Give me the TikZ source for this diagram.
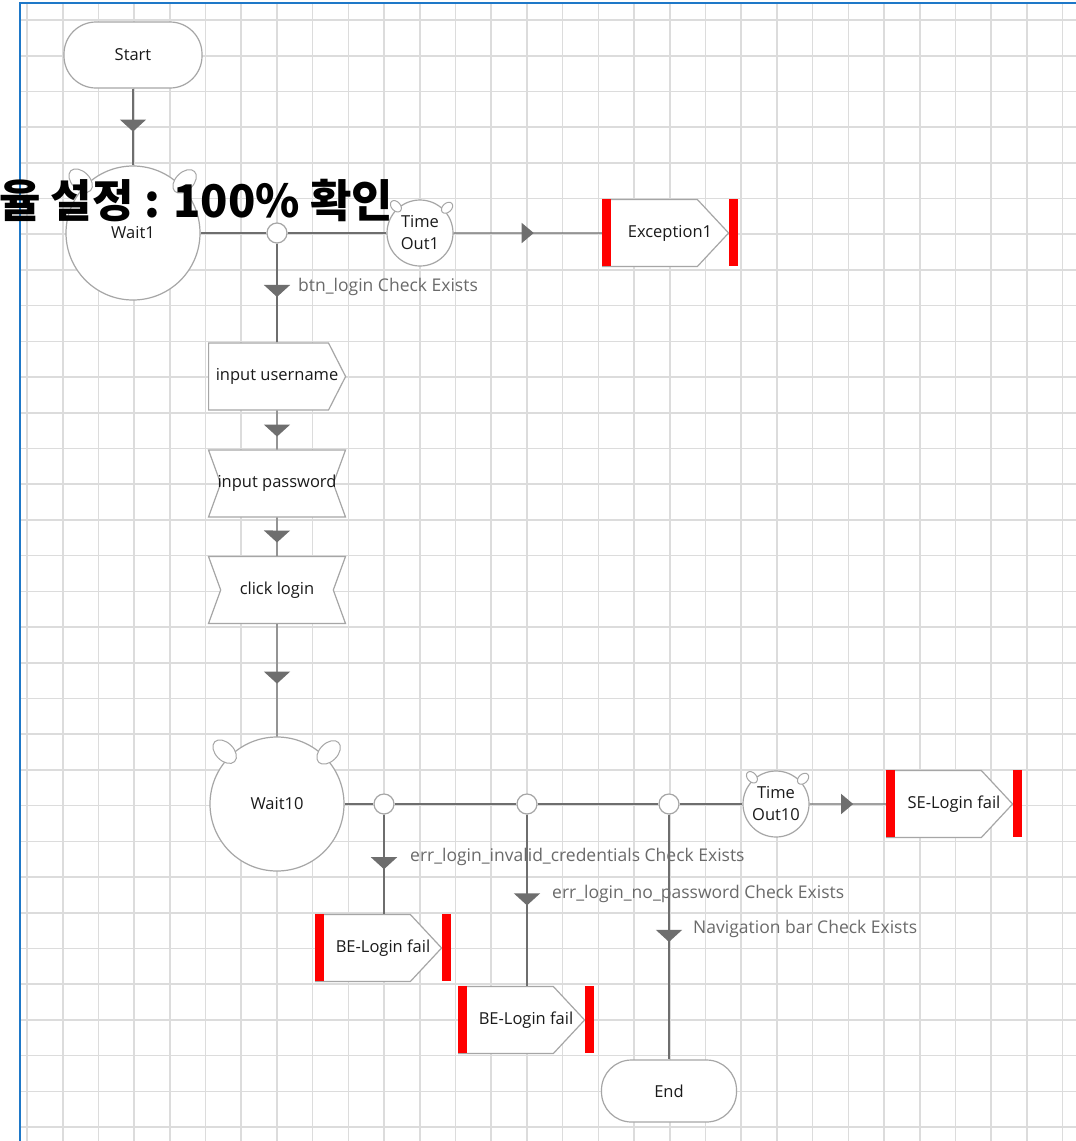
\documentclass[tikz,border=0pt]{standalone}
\usepackage{fontspec}
\setmainfont{Open Sans}
\newfontfamily\krfont{Noto Sans CJK KR}
\usepackage{tikz}
\usetikzlibrary{arrows.meta}
\usetikzlibrary{calc}
\usetikzlibrary{decorations.markings}
\usetikzlibrary{shapes.geometric}
\usetikzlibrary{shapes.symbols}
\definecolor{gridgray}{HTML}{DCDCDC}
\definecolor{frameblue}{HTML}{1E78C8}
\definecolor{linegray}{HTML}{6E6E6E}
\definecolor{shapegray}{HTML}{A6A6A6}
\definecolor{lblgray}{HTML}{6A6A6A}
\definecolor{txtblack}{HTML}{1A1A1A}
\newcommand\flowfont{\fontsize{16.5}{22}\selectfont}
\newcommand\notefont{\fontsize{17.5}{20}\selectfont}
\newcommand\movetext[2]{\makebox[0pt]{\hspace{#1}#2}}

\begin{document}
\begin{tikzpicture}[x=1pt, y=-1pt,
    vtip/.style={postaction={decorate}, decoration={markings, mark=at position #1 with {\arrow{Triangle[width=26pt,length=12pt]}}}},
    htip/.style={postaction={decorate}, decoration={markings, mark=at position #1 with {\arrow{Triangle[width=20pt,length=12pt]}}}}]
    \tikzstyle{e} = [draw=linegray, line width=1.3pt]
    \tikzstyle{term} = [draw=shapegray, fill=white, line width=1.2pt, rounded corners=32pt, minimum width=138pt, minimum height=66pt, font=\flowfont, text=txtblack]
    \tikzstyle{waitc} = [circle, draw=shapegray, fill=white, line width=1.2pt, minimum size=134pt, inner sep=0pt, font=\flowfont, text=txtblack]
    \tikzstyle{timec} = [circle, draw=shapegray, fill=white, line width=1.2pt, minimum size=66pt, inner sep=0pt, align=center, font=\flowfont, text=txtblack]
    \tikzstyle{ear} = [ellipse, draw=shapegray, fill=white, line width=1pt, minimum width=28pt, minimum height=18pt, inner sep=0pt]
    \tikzstyle{smallear} = [ear, minimum width=13pt, minimum height=9pt]
    \tikzstyle{junc} = [circle, draw=shapegray, fill=white, line width=1.2pt, minimum size=20pt, inner sep=0pt]
    \tikzstyle{act} = [signal, draw=shapegray, fill=white, line width=1.2pt, minimum width=137pt, minimum height=67pt, inner sep=0pt, font=\flowfont, text=txtblack]
    \tikzstyle{sendbox} = [act, anchor=west, signal to=east, signal pointer angle=126]
    \tikzstyle{waitbox} = [act, inner xsep=-4pt, signal from=west and east, signal to=nowhere, signal pointer angle=140]
    \tikzstyle{failbox} = [act, anchor=west, signal to=east, signal pointer angle=94, minimum width=126pt]
    \tikzstyle{lbl} = [anchor=west, inner sep=0pt, text=lblgray, font=\notefont]

    \useasboundingbox (0,0) rectangle (1076,1141);
    \fill[white] (0,0) rectangle (1076,1141);
    \foreach \i in {0,...,29}
        \draw[gridgray, line width=1.6pt] ({27+35.71*\i},3) -- ({27+35.71*\i},1141);
    \foreach \i in {0,...,31}
        \draw[gridgray, line width=1.6pt] (20,{20+35.71*\i}) -- (1076,{20+35.71*\i});
    \draw[frameblue, line width=2.4pt] (20,1141) -- (20,3) -- (1076,3);

    \node[term] (start) at (133,55) {Start};
    \node[waitc] (w1) at (133,233) {Wait1};
    \node[junc] (j1) at (277,233) {};
    \node[timec] (t1) at (420,233) {Time\\Out1};
    \node[failbox] (exc1) at (602,233) {\movetext{40pt}{Exception1}};
    \node[sendbox] (iu) at (208,376.5) {\movetext{17pt}{input username}};
    \node[waitbox] (ip) at (277,483.5) {input password};
    \node[waitbox] (cl) at (277,590) {click login};
    \node[waitc] (w10) at (277,804) {Wait10};
    \node[junc] (j2) at (384,804) {};
    \node[junc] (j3) at (527,804) {};
    \node[junc] (j4) at (669,804) {};
    \node[timec] (t10) at (776,804) {Time\\Out10};
    \node[failbox] (se) at (886,804) {\movetext{40pt}{SE-Login fail}};
    \node[failbox] (be1) at (315,948) {\movetext{40pt}{BE-Login fail}};
    \node[failbox] (be2) at (458,1020) {\movetext{40pt}{BE-Login fail}};
    \node[term, minimum width=135pt, minimum height=62pt, rounded corners=30pt] (end) at (669,1091) {End};

    \foreach \n in {w1,w10} {
        \node[ear, rotate=135] (\n-el) at ($(\n.center)+(135:74pt)$) {};
        \node[ear, rotate=45] (\n-er) at ($(\n.center)+(45:73pt)$) {};
    }
    \foreach \n in {t1,t10} {
        \node[smallear, rotate=132] (\n-el) at ($(\n.center)+(132:36pt)$) {};
        \node[smallear, rotate=43] (\n-er) at ($(\n.center)+(43:37pt)$) {};
    }
    \foreach \n in {exc1,se,be1,be2} {
        \fill[red] (\n.west |- \n.north) rectangle ++(9,67);
        \fill[red] (\n.east |- \n.north) rectangle ++(9,67);
    }

    \node[lbl] (lb1) at (298,287) {btn\_login Check Exists};
    \node[lbl] (lb2) at (410,857) {err\_login\_invalid\_credentials Check Exists};
    \node[lbl] (lb3) at (552,894) {err\_login\_no\_password Check Exists};
    \node[lbl] (lb4) at (693,929) {Navigation bar Check Exists};

    \draw[e, vtip=0.56] (start) -- (w1);
    \draw[e] (w1) -- (j1) -- (t1);
    \draw[e, htip=0.54] (t1) -- (exc1);
    \draw[e, vtip=0.54] (j1) -- (j1 |- iu.north);
    \draw[e, vtip=0.67] (iu.south -| ip.north) -- (ip);
    \draw[e, vtip=0.65] (ip) -- (cl);
    \draw[e, vtip=0.53] (cl) -- (w10);
    \draw[e] (w10) -- (j2) -- (j3) -- (j4) -- (t10);
    \draw[e, htip=0.57] (t10) -- (se);
    \draw[e, vtip=0.55] (j2) -- (j2 |- be1.north);
    \draw[e, vtip=0.53] (j3) -- (j3 |- be2.north);
    \draw[e, vtip=0.52] (j4) -- (end);

    \node[anchor=base west, inner sep=0pt, font=\krfont\bfseries\fontsize{45}{48}\selectfont] (zoomnote) at (-1,217) {율 설정 : 100\% 확인};
\end{tikzpicture}
\end{document}
